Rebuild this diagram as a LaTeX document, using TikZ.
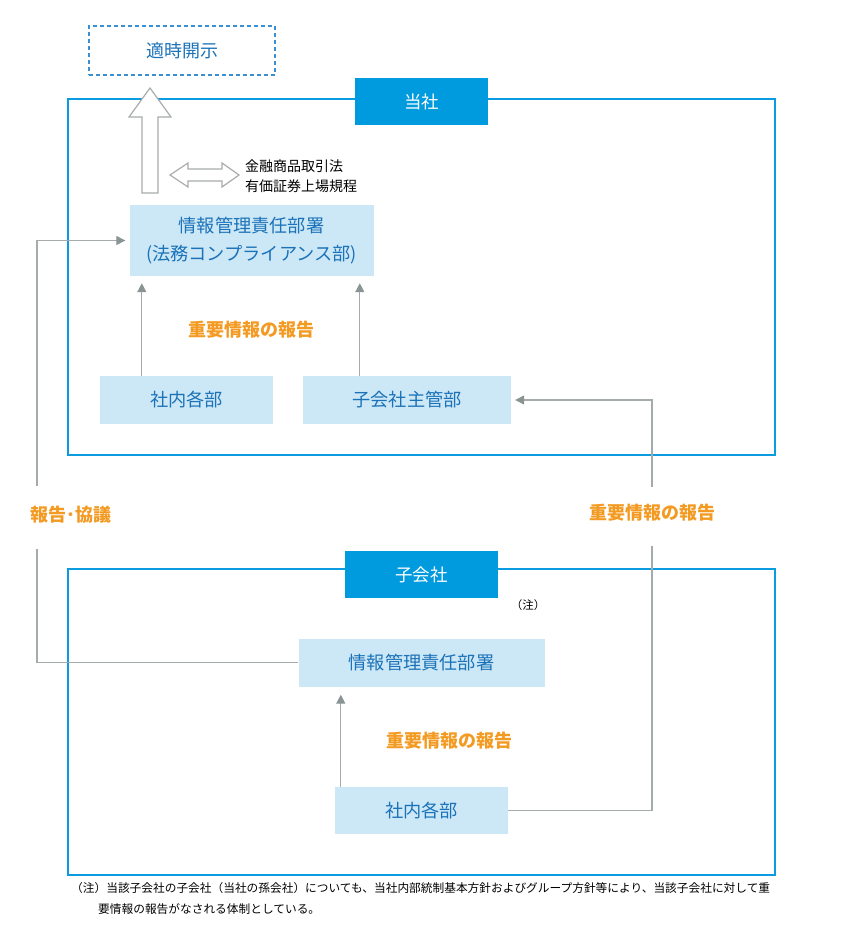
\documentclass[tikz,border=0pt]{standalone}
\usepackage{fontspec}
\setmainfont{Noto Sans CJK JP}
\usetikzlibrary{arrows.meta}
\definecolor{frameblue}{HTML}{0A9BE0}
\definecolor{labelblue}{HTML}{009ADF}
\definecolor{lightfill}{HTML}{CCE8F6}
\definecolor{textblue}{HTML}{1B72B8}
\definecolor{dashblue}{HTML}{3A90D0}
\definecolor{orangetxt}{HTML}{F39A22}
\definecolor{lineg}{HTML}{A5AAAA}
\definecolor{headg}{HTML}{8A9494}
\definecolor{hollowg}{HTML}{A8ACAC}
\tikzset{
  frame/.style={draw=frameblue, line width=2pt, inner sep=0pt},
  tag/.style={fill=labelblue, text=white, inner sep=0pt, font=\fontsize{17.5}{20}\selectfont},
  lbox/.style={fill=lightfill, text=textblue, inner sep=0pt, align=center, font=\fontsize{18.2}{28}\selectfont},
  dbox/.style={draw=dashblue, dash pattern=on 4pt off 3pt, line width=1.6pt, text=textblue, inner sep=0pt, font=\fontsize{18}{20}\selectfont},
  olabel/.style={text=orangetxt, font=\fontsize{18}{20}\selectfont\bfseries, inner sep=0pt},
  gline/.style={draw=lineg, line width=1.3pt},
  arr/.style={gline, -{Triangle[length=9pt,width=9pt,fill=headg,color=headg]}},
  hollow/.style={draw=hollowg, line width=1.2pt, fill=white, line join=miter},
  small/.style={font=\fontsize{14}{16}\selectfont, inner sep=0pt, anchor=west},
  foot/.style={font=\fontsize{11.7}{14}\selectfont, inner sep=0pt, anchor=west}
}
\begin{document}
\begin{tikzpicture}[x=1pt,y=-1pt]
\useasboundingbox (0,0) rectangle (840,949);
% frames
\node[frame, minimum width=707, minimum height=356] (cof) at (421.5,277) {};
\node[frame, minimum width=707, minimum height=306] (subf) at (421.5,722) {};
\node[tag, minimum width=133, minimum height=47] (cotag) at (421.5,101.5) {当社};
\node[tag, minimum width=153, minimum height=47] (subtag) at (421.5,574.5) {子会社};
% disclosure box
\node[dbox, minimum width=186, minimum height=49] (disc) at (182,50.5) {適時開示};
% hollow up arrow
\draw[hollow] (142,193) -- (142,117) -- (129,117) -- (150,88) -- (171,117) -- (158,117) -- (158,193) -- cycle;
% hollow double arrow
\draw[hollow] (170,175) -- (188,163) -- (188,169) -- (222,169) -- (222,163) -- (239,175) -- (222,187) -- (222,181) -- (188,181) -- (188,187) -- cycle;
\node[small] (law1) at (245,166) {金融商品取引法};
\node[small] (law2) at (245,186) {有価証券上場規程};
% boxes
\node[lbox, minimum width=244, minimum height=71] (info) at (251.5,240.5) {情報管理責任部署\\(法務コンプライアンス部)};
\node[lbox, minimum width=173, minimum height=48] (sn1) at (186.5,400) {社内各部};
\node[lbox, minimum width=208, minimum height=48] (sub) at (407,400) {子会社主管部};
\node[lbox, minimum width=246, minimum height=48] (info2) at (421.5,662.5) {情報管理責任部署};
\node[lbox, minimum width=173, minimum height=47] (sb) at (421.5,810.5) {社内各部};
% orange labels
\node[olabel] (o1) at (251,330) {重要情報の報告};
\node[olabel] (o2) at (449,741) {重要情報の報告};
\node[olabel] (o3) at (71,515) {報告･協議};
\node[olabel] (o4) at (652,513) {重要情報の報告};
\node[font=\fontsize{11.5}{14}\selectfont, inner sep=0pt] (note) at (528,605) {（注）};
% connectors
\draw[arr, shorten >=7pt] ([xshift=42pt]sn1.north west) -- ([xshift=42pt]sn1.north west |- info.south);
\draw[arr, shorten >=7pt] ([xshift=57pt]sub.north west) -- ([xshift=57pt]sub.north west |- info.south);
\draw[arr, shorten >=8pt] ([xshift=6pt]sb.north west) -- ([xshift=6pt]sb.north west |- info2.south);
\coordinate (r1) at (652,487);
\coordinate (r2) at (652,546);
\coordinate (l1) at (37,486);
\coordinate (l2) at (37,549);
\draw[arr, shorten >=4pt] (r1) |- (sub.east);
\draw[gline] (r2) |- (sb.east);
\draw[arr, shorten >=4pt] (l1) |- (info.west);
\draw[gline] (l2) |- (info2.west);
% footnote
\node[foot] (f1) at (71,888) {（注）当該子会社の子会社（当社の孫会社）についても、当社内部統制基本方針およびグループ方針等により、当該子会社に対して重};
\node[foot] (f2) at (98,909) {要情報の報告がなされる体制としている。};
\end{tikzpicture}
\end{document}
